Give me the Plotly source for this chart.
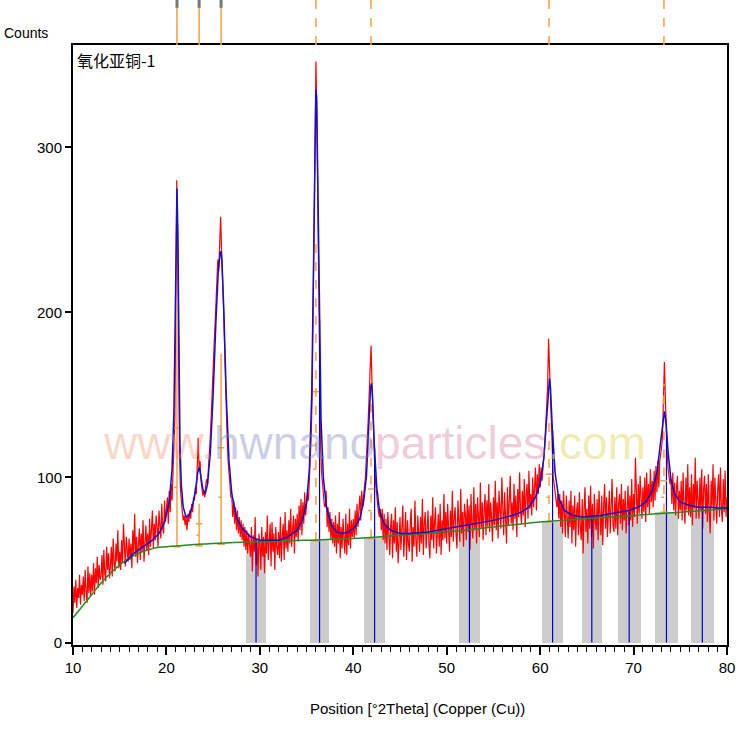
import numpy as np
import plotly.graph_objects as go

# ---------------- data ----------------
scan_start = 10.0
scan_step = 0.1
counts = [
    18,34,24,38,21,33,27,41,23,35,
    29,40,25,44,31,24,46,30,42,28,
    41,31,48,29,45,36,52,33,47,38,
    40,53,35,56,42,37,58,44,54,39,
    46,58,40,63,48,43,60,49,68,45,
    55,44,62,48,72,51,46,64,53,49,
    63,50,60,45,68,54,78,52,64,48,
    59,69,50,66,55,74,49,65,71,56,
    66,53,75,58,70,80,57,72,62,77,
    70,58,80,67,63,84,69,66,86,73,
    80,88,72,92,79,96,86,100,110,135,
    200,280,245,160,115,93,84,79,74,77,
    71,76,68,78,73,80,75,84,79,88,
    86,94,90,112,124,104,110,98,94,89,
    92,88,95,99,96,104,112,125,138,155,
    165,180,192,210,218,232,225,240,258,238,
    225,205,185,160,140,124,110,100,94,88,
    88,76,86,72,82,68,80,66,76,64,
    74,62,72,58,70,56,68,54,66,57,
    52,70,43,65,55,76,47,62,40,66,
    60,44,70,52,64,42,67,54,77,50,
    62,72,46,73,55,66,44,70,58,53,
    67,51,76,49,64,72,50,79,57,68,
    55,74,60,81,58,70,77,54,75,64,
    78,61,83,68,87,65,85,72,91,77,
    84,90,86,98,108,125,150,195,250,300,
    352,318,265,200,150,120,104,95,88,83,
    82,92,70,82,67,79,62,75,60,73,
    58,77,54,72,60,79,51,70,57,75,
    63,54,78,53,72,59,81,57,74,64,
    75,63,80,65,84,70,80,89,74,92,
    82,91,95,100,110,122,135,150,170,180,
    158,135,118,105,96,88,84,79,76,81,
    68,81,62,78,60,75,56,79,64,53,
    70,78,51,74,60,82,55,73,48,69,
    76,56,72,83,52,67,79,50,74,60,
    55,73,81,49,70,58,86,62,52,77,
    69,55,76,60,87,53,72,79,57,71,
    80,60,51,77,62,88,57,73,82,54,
    71,78,58,84,53,74,62,90,63,79,
    60,84,68,55,80,64,92,61,75,82,
    65,57,86,70,61,93,66,79,58,84,
    78,62,87,67,83,56,90,71,63,94,
    68,84,60,88,72,64,97,69,85,62,
    80,90,65,86,70,96,67,85,75,61,
    88,71,98,68,85,63,92,75,69,100,
    74,65,91,78,60,94,71,86,101,72,
    85,68,96,75,89,64,93,76,103,80,
    72,92,77,99,70,90,96,75,104,81,
    90,77,100,82,95,106,80,102,90,108,
    94,106,98,110,113,121,130,142,155,184,
    165,148,128,112,100,96,90,86,82,90,
    75,90,70,86,66,92,74,64,89,72,
    63,86,70,92,60,83,68,89,58,80,
    85,65,91,70,62,87,54,81,94,67,
    81,60,89,69,95,64,84,57,90,73,
    68,87,62,92,71,65,89,59,83,96,
    69,88,64,82,92,66,85,99,71,67,
    88,69,94,65,84,90,72,96,68,87,
    74,92,66,86,95,71,89,74,99,70,
    90,76,112,92,72,96,78,101,81,75,
    94,79,100,73,103,82,96,78,105,85,
    98,82,104,86,107,91,110,94,110,114,
    118,126,145,170,148,128,114,105,99,96,
    99,84,103,80,97,77,94,101,75,92,
    80,98,74,103,83,72,100,80,108,77,
    94,76,102,71,96,81,112,75,98,82,
    75,100,80,105,69,93,101,78,96,73,
    102,79,66,98,82,108,74,100,80,72,
    92,102,76,106,81,73,99,79,104,76,
    88,
]

fit_x = [15.5,16.5,17.5,18.5,19.2,19.8,20.3,20.6,20.8,20.95,21.05,21.13,21.22,21.32,21.45,21.6,21.8,
         22.1,22.4,22.8,23.1,23.35,23.5,23.65,23.9,24.15,24.4,24.7,25.0,25.3,25.55,25.75,25.85,25.95,
         26.15,26.4,26.7,27.0,27.5,28.0,28.5,29.0,30.0,31.0,32.0,33.0,34.0,34.6,35.0,35.3,35.55,35.75,
         35.9,36.0,36.08,36.2,36.35,36.55,36.8,37.1,37.6,38.2,38.8,39.5,40.2,40.7,41.1,41.4,41.65,41.85,
         41.95,42.05,42.25,42.5,42.8,43.3,44,45,46,47,48,49,50,51,52,53,54,55,56,57,58,58.8,59.5,60.0,
         60.4,60.7,60.9,61.0,61.1,61.3,61.6,62.0,62.6,63.5,64.5,65.5,66.5,67.5,68.5,69.5,70.5,71.3,72.0,
         72.5,72.9,73.15,73.3,73.45,73.7,74.0,74.4,75.0,76,77,78,79,80]
fit_y = [48,54,58,62,66,73,85,105,140,200,255,275,250,180,120,95,82,
         76,77,83,92,103,106,102,93,90,96,115,150,195,225,236,237,230,
         200,150,110,90,76,70,67,64,62,62,62,64,68,75,85,105,150,230,
         305,335,330,285,200,135,100,83,72,67,66,67,70,75,85,100,130,155,
         157,150,120,95,80,72,68,66,66,66.5,67,68,69,70,71,72,73,74,75.5,77,79,82,88,96,
         112,135,155,160,155,130,103,87,80,77,76,76.5,77,78,79,80,82,85,92,
         103,122,136,140,135,115,99,90,85,83,82,82,81.5,81.5]

bg_x = [10,11,12,13,14,15,16,17,18,19,20,22,25,30,35,40,45,50,55,60,65,70,75,80]
bg_y = [15,22,29,36,42,47,51,54,56,57.5,58,59,60,61,62,63,65,67,70,73,75,77,79,81]

ref_pos = [29.59,36.39,42.28,52.43,61.33,65.53,69.53,73.52,77.36]
ref_width = [2.05,2.03,2.2,2.25,2.25,2.2,2.5,2.55,2.4]
ref_bar_height = [57,62,64,69,73,75,77,79,81]
ref_line_height = [62,195,118,71,128,76,80,130,82]

peak_pos = [21.13,23.5,25.85,36.0,41.9,60.95,73.25]
peak_base = [58,58.5,59.5,61.5,63,73,79]
peak_top = [205,84,175,243,160,134,157]
peak_tick_hi = [130,72,118,152,93,102,98]
peak_tick_lo = [94,65,88,105,80,88,88]
peak_dashed = [False,False,False,True,True,True,True]

x_ticks = [10,20,30,40,50,60,70,80]
y_ticks = [0,100,200,300]

# ---------------- figure ----------------
two_theta = np.round(scan_start + scan_step*np.arange(len(counts)), 2)
sans = "Liberation Sans, Arial, sans-serif"

fig = go.Figure()

# grey reference bars
fig.add_trace(go.Bar(x=ref_pos, y=ref_bar_height, width=ref_width,
                     marker=dict(color="#cccccc", line=dict(width=0)), hoverinfo="skip"))

# measured data
fig.add_trace(go.Scatter(x=two_theta, y=counts, mode="lines",
                         line=dict(color="#ff0000", width=1.2)))

# blue reference lines
lx, ly = [], []
for p, h in zip(ref_pos, ref_line_height):
    lx += [p, p, None]; ly += [0, h, None]
fig.add_trace(go.Scatter(x=lx, y=ly, mode="lines", line=dict(color="#0000cc", width=1.2)))

# orange peak markers
def seg_lists(dashed_flag):
    sx, sy = [], []
    for p, b, t, d in zip(peak_pos, peak_base, peak_top, peak_dashed):
        if d == dashed_flag:
            sx += [p, p, None]; sy += [b, t, None]
    return sx, sy

for flag in (False, True):
    sx, sy = seg_lists(flag)
    fig.add_trace(go.Scatter(x=sx, y=sy, mode="lines",
                             line=dict(color="#f5a040", width=1.5, dash="dash" if flag else "solid")))

tx, ty = [], []
for p, b, hi in zip(peak_pos, peak_base, peak_tick_hi):
    tx += [p-0.35, p+0.35, None, p-0.4, p+0.4, None]; ty += [hi, hi, None, b, b, None]
fig.add_trace(go.Scatter(x=tx, y=ty, mode="lines", line=dict(color="#f5a040", width=1.5)))
dx, dy = [], []
for p, lo in zip(peak_pos, peak_tick_lo):
    dx += [p-0.3, p+0.3, None]; dy += [lo, lo, None]
fig.add_trace(go.Scatter(x=dx, y=dy, mode="lines", line=dict(color="#f5a040", width=1.5, dash="dot")))

# background
fig.add_trace(go.Scatter(x=bg_x, y=bg_y, mode="lines", line=dict(color="#228b22", width=1.5, shape="spline")))
# fit
fig.add_trace(go.Scatter(x=fit_x, y=fit_y, mode="lines", line=dict(color="#1010d0", width=1.5)))

# top marker lines above plot
shapes = []
for p, d in zip(peak_pos, peak_dashed):
    shapes.append(dict(type="line", xref="x", yref="paper", x0=p, x1=p, y0=1.0, y1=1.075,
                       line=dict(color="#f5a040", width=1.5, dash="dash" if d else "solid")))
    if not d:
        shapes.append(dict(type="line", xref="x", yref="paper", x0=p, x1=p, y0=1.062, y1=1.075,
                           line=dict(color="#777777", width=3)))

watermark = ('<span style="color:rgba(240,150,110,0.38)">www.</span>'
             '<span style="color:rgba(120,125,190,0.38)">hwnano</span>'
             '<span style="color:rgba(215,120,160,0.38)">particles</span>'
             '<span style="color:rgba(225,215,90,0.48)">.com</span>')

fig.update_layout(
    width=750, height=750,
    margin=dict(l=73, r=23, t=45, b=105),
    paper_bgcolor="white", plot_bgcolor="white",
    showlegend=False, bargap=0,
    shapes=shapes,
    font=dict(family=sans, size=15, color="black"),
    xaxis=dict(range=[10, 80], tickvals=x_ticks, ticks="outside", ticklen=8, tickwidth=1.5,
               tickcolor="black", showline=True, linecolor="black", linewidth=2, mirror=True,
               showgrid=False, zeroline=False, tickfont=dict(family=sans, size=15),
               minor=dict(dtick=1, ticks="outside", ticklen=5, tickcolor="black", tickwidth=1)),
    yaxis=dict(range=[-1.5, 362], tickvals=y_ticks, ticks="outside", ticklen=6, tickwidth=1.5,
               tickcolor="black", showline=True, linecolor="black", linewidth=2, mirror=True,
               showgrid=False, zeroline=False, tickfont=dict(family=sans, size=15)),
    annotations=[
        dict(text="Counts", xref="paper", yref="paper", x=-0.108, y=1.02, xanchor="left",
             yanchor="middle", showarrow=False, font=dict(family=sans, size=14)),
        dict(text="氧化亚铜-1", xref="paper", yref="paper", x=0.003, y=0.998, xanchor="left",
             yanchor="top", showarrow=False, font=dict(family="Noto Sans CJK SC", size=16)),
        dict(text="Position [°2Theta] (Copper (Cu))", xref="paper", yref="paper", x=0.527, y=-0.105,
             xanchor="center", yanchor="middle", showarrow=False, font=dict(family=sans, size=15)),
        dict(text=watermark, xref="x", yref="y", x=13.0, y=121, xanchor="left", yanchor="middle",
             showarrow=False, font=dict(family=sans, size=46)),
    ],
)

fig.write_html("out.html")
